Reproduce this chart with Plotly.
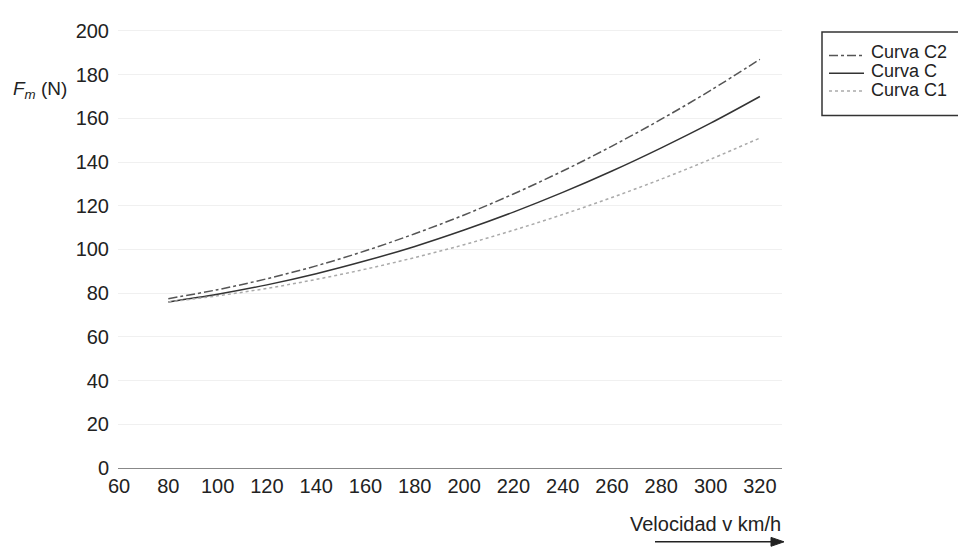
import plotly.graph_objects as go

velocidad = [80, 100, 120, 140, 160, 180, 200, 220, 240, 260, 280, 300, 320]
curva_c2 = [77.5, 81.6, 86.6, 92.5, 99.4, 107.2, 115.8, 125.4, 135.9, 147.3, 159.6, 172.8, 187]
curva_c = [76, 79.5, 83.8, 88.9, 94.8, 101.4, 108.9, 117.1, 126.1, 135.9, 146.5, 157.8, 170]
curva_c1 = [76, 78.8, 82.2, 86.3, 91, 96.3, 102.2, 108.8, 116, 123.8, 132.2, 141.3, 151]

x_ticks = list(range(60, 321, 20))
y_ticks = list(range(0, 201, 20))
series_names = ["Curva C2", "Curva C", "Curva C1"]

font_family = "Liberation Sans, Arial, sans-serif"
text_color = "#222222"

# page offset caused by the default body margin
OFF = 8
W, H = 966 - OFF, 547 - OFF
# plot area in page pixels
L, R, T, B = 118, 782, 20, 468

def px(x):
    return (x - L) / (R - L)

def py(y):
    return (B - y) / (B - T)

styles = [
    dict(color="#555555", width=1.5, dash="dashdot"),
    dict(color="#333333", width=1.5, dash="solid"),
    dict(color="#aaaaaa", width=1.5, dash="dot"),
]

fig = go.Figure()
for name, vals, st in zip(series_names, [curva_c2, curva_c, curva_c1], styles):
    fig.add_trace(go.Scatter(x=velocidad, y=vals, mode="lines", name=name,
                             line=dict(shape="spline", **st), showlegend=False))

shapes = []
annotations = []

# legend box (extends past right edge as in reference)
shapes.append(dict(type="rect", xref="paper", yref="paper",
                   x0=px(822), x1=px(1000), y0=py(110), y1=py(25),
                   line=dict(color="#333333", width=1.5), fillcolor="white", layer="above"))
legend_text_y = [45.5, 64.5, 83.5]
legend_line_y = [49, 67, 85]
for name, st, ty, ly in zip(series_names, styles, legend_text_y, legend_line_y):
    shapes.append(dict(type="line", xref="paper", yref="paper",
                       x0=px(829), x1=px(864), y0=py(ly), y1=py(ly),
                       line=dict(color=st["color"], width=st["width"], dash=st["dash"])))
    annotations.append(dict(text=name, xref="paper", yref="paper", x=px(869), y=py(ty),
                            xanchor="left", yanchor="middle", showarrow=False,
                            font=dict(size=18, color=text_color)))

# y axis title
annotations.append(dict(text="<i>F<sub>m</sub></i> (N)", xref="paper", yref="paper",
                        x=px(11), y=py(84), xanchor="left", yanchor="middle",
                        showarrow=False, font=dict(size=19, color=text_color)))
# x axis title
annotations.append(dict(text="Velocidad v km/h", xref="paper", yref="paper",
                        x=px(783), y=py(525), xanchor="right", yanchor="middle",
                        showarrow=False, font=dict(size=20, color=text_color)))
# arrow under x title
shapes.append(dict(type="line", xref="paper", yref="paper",
                   x0=px(655), x1=px(776), y0=py(543), y1=py(543),
                   line=dict(color=text_color, width=1.5)))
shapes.append(dict(type="path", xref="paper", yref="paper",
                   path=f"M {px(784)},{py(543)} L {px(771)},{py(538.5)} L {px(771)},{py(547.5)} Z",
                   fillcolor=text_color, line=dict(color=text_color, width=1)))

fig.update_layout(
    width=W, height=H,
    margin=dict(l=L - OFF, r=W - (R - OFF), t=T - OFF, b=H - (B - OFF)),
    paper_bgcolor="white", plot_bgcolor="white",
    font=dict(family=font_family, size=20, color=text_color),
    showlegend=False,
    xaxis=dict(range=[60 - (119 - L) / 49.3 * 20, 60 + (R - 119) / 49.3 * 20],
               tickvals=x_ticks, showgrid=False, zeroline=False,
               showline=True, linecolor="#888888", linewidth=1, ticks="",
               tickfont=dict(size=20, color=text_color)),
    yaxis=dict(range=[0, (B - T) / 2.22], tickvals=y_ticks, showgrid=True, gridcolor="#f0f0f0",
               zeroline=False, showline=False, ticks="", ticklabelstandoff=8,
               tickfont=dict(size=20, color=text_color)),
    shapes=shapes,
    annotations=annotations,
)

fig.write_html("out.html")
